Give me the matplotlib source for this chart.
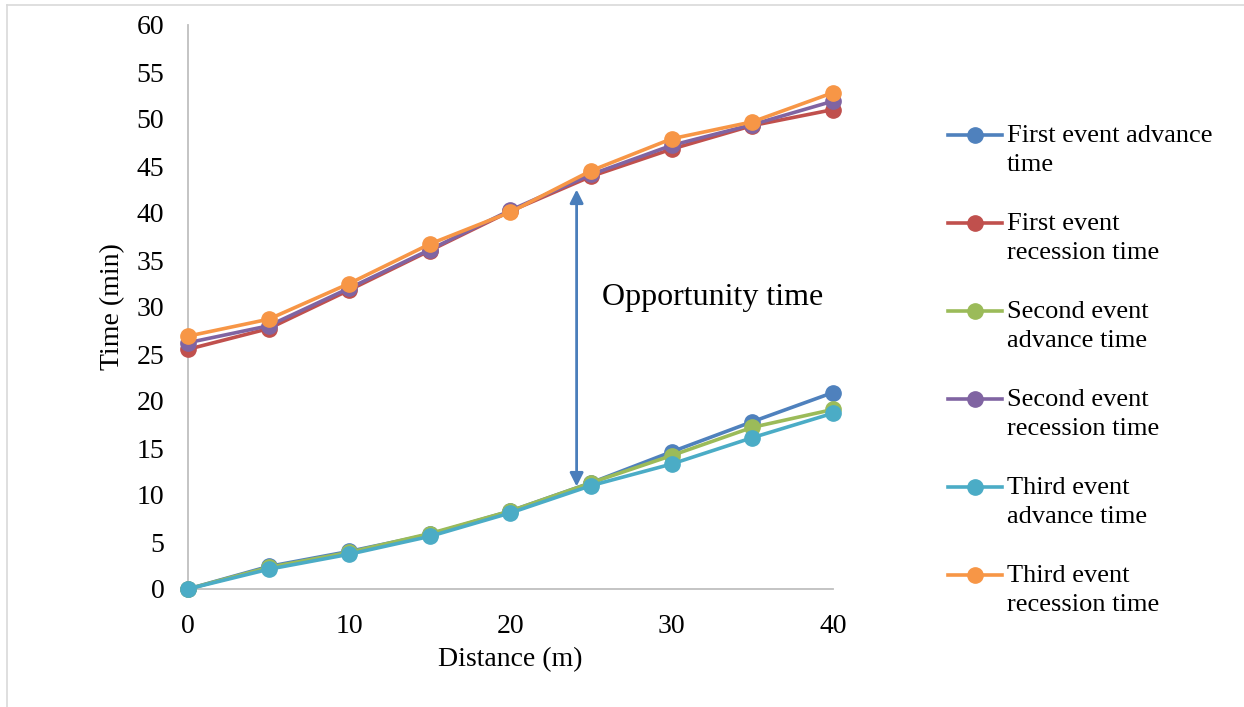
import matplotlib
matplotlib.use('Agg')
import matplotlib.pyplot as plt
from matplotlib.lines import Line2D

FIGSIZE = (12.44, 7.07)
SERIF = ['Liberation Serif', 'DejaVu Serif']

distance = [0, 5, 10, 15, 20, 25, 30, 35, 40]

first_advance = [0, 2.4, 4.0, 5.8, 8.3, 11.3, 14.6, 17.8, 20.9]
first_recession = [25.5, 27.7, 31.8, 36.0, 40.2, 43.9, 46.8, 49.3, 51.0]
second_advance = [0, 2.3, 3.9, 5.9, 8.3, 11.3, 14.2, 17.2, 19.1]
second_recession = [26.2, 28.0, 32.0, 36.1, 40.3, 44.1, 47.2, 49.4, 51.9]
third_advance = [0, 2.1, 3.7, 5.6, 8.1, 11.0, 13.3, 16.1, 18.7]
third_recession = [26.9, 28.7, 32.5, 36.7, 40.1, 44.5, 47.9, 49.7, 52.8]

series = [
    ("First event advance\ntime", first_advance, "#4F81BD"),
    ("First event\nrecession time", first_recession, "#C0504D"),
    ("Second event\nadvance time", second_advance, "#9BBB59"),
    ("Second event\nrecession time", second_recession, "#8064A2"),
    ("Third event\nadvance time", third_advance, "#4BACC6"),
    ("Third event\nrecession time", third_recession, "#F79646"),
]

arrow_x = 24.1
arrow_top = 42.5
arrow_bottom = 10.9
note_text = "Opportunity time"

plt.rcParams['font.family'] = SERIF
fig = plt.figure(figsize=FIGSIZE, dpi=100)
W, H = 1244, 707
ax = fig.add_axes([188 / W, 1 - 589 / H, (833 - 188) / W, (589 - 25) / H])

for label, vals, color in series:
    ax.plot(distance, vals, color=color, lw=2.6, marker='o', ms=11,
            clip_on=False, zorder=3)

ax.set_xlim(0, 40)
ax.set_ylim(0, 60)
ax.set_xticks(range(0, 41, 10))
ax.set_yticks(range(0, 61, 5))
for s in ['top', 'right']:
    ax.spines[s].set_visible(False)
for s in ['left', 'bottom']:
    ax.spines[s].set_color('#BFBFBF')
    ax.spines[s].set_linewidth(1.3)
ax.tick_params(axis='both', length=0, labelsize=20)
ax.tick_params(axis='y', pad=17)
ax.tick_params(axis='x', pad=18)
ax.set_xlabel("Distance (m)", fontsize=20, labelpad=6)
ax.set_ylabel("Time (min)", fontsize=20, labelpad=8)

# double-headed arrow marking the opportunity time
ax.annotate("", xy=(arrow_x, arrow_bottom), xytext=(arrow_x, arrow_top),
            arrowprops=dict(arrowstyle='<|-|>', color='#4A7EBB', lw=2,
                            mutation_scale=20, shrinkA=0, shrinkB=0))
ax.text(25.7, 31.0, note_text, fontsize=23, va='center', ha='left')

# legend, one entry per series with the marker at the first text line
for i, (label, vals, color) in enumerate(series):
    y = 1 - (135 + 88 * i) / H
    fig.add_artist(Line2D([948 / W, 1002 / W], [y, y], color=color, lw=2.6,
                          transform=fig.transFigure))
    fig.add_artist(Line2D([975 / W], [y], color=color, marker='o', ms=11,
                          transform=fig.transFigure))
    fig.text(1007 / W, y + 10 / H, label, fontsize=19, va='top', ha='left',
             linespacing=1.39)

# light frame lines at the top and left edge of the picture
fig.add_artist(Line2D([7 / W, 1], [1 - 5 / H, 1 - 5 / H], color='#D9D9D9',
                      lw=1.2, transform=fig.transFigure))
fig.add_artist(Line2D([7 / W, 7 / W], [0, 1 - 5 / H], color='#D9D9D9',
                      lw=1.2, transform=fig.transFigure))

plt.savefig("out.png", dpi=100)
